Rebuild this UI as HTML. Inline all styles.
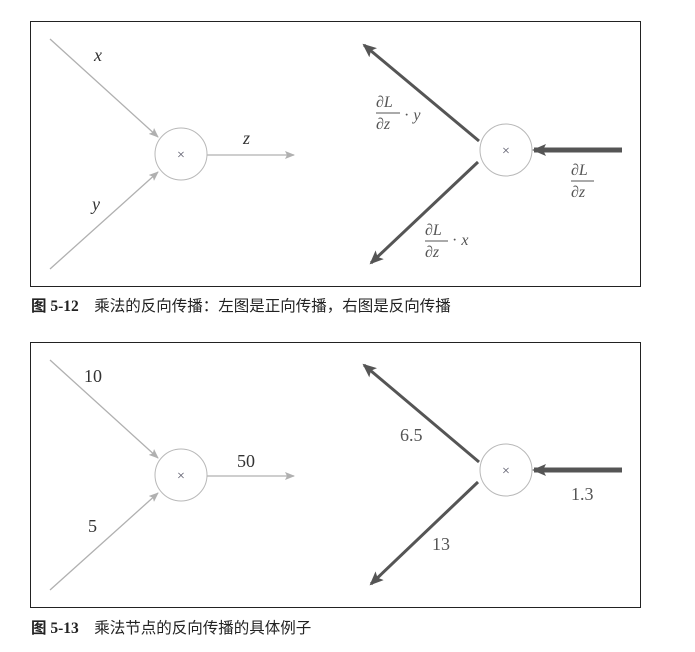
<!DOCTYPE html>
<html><head><meta charset="utf-8"><style>
html,body{margin:0;padding:0;background:#fff;}
svg text{font-family:"Liberation Serif","Noto Serif CJK SC",serif;}
.cap{font-family:"Liberation Serif","Noto Sans CJK SC",sans-serif;font-size:15.5px;fill:#222;}
</style></head><body>
<svg width="695" height="647" viewBox="0 0 695 647" xmlns="http://www.w3.org/2000/svg">
<defs>
<marker id="ag" markerWidth="10" markerHeight="8" refX="9" refY="4" orient="auto" markerUnits="userSpaceOnUse">
<path d="M0,0 L10,4 L0,8 L2,4 Z" fill="#b0b0b0"/></marker>
<marker id="ad" markerWidth="14" markerHeight="12" refX="12" refY="6" orient="auto" markerUnits="userSpaceOnUse">
<path d="M0,0 L14,6 L0,12 L3,6 Z" fill="#555"/></marker>
</defs>
<g>
<rect x="30.5" y="21.5" width="610" height="265" fill="none" stroke="#222" stroke-width="1"/>
<line x1="50" y1="39" x2="158" y2="137" stroke="#b0b0b0" stroke-width="1.3" marker-end="url(#ag)"/>
<line x1="50" y1="269" x2="158" y2="172" stroke="#b0b0b0" stroke-width="1.3" marker-end="url(#ag)"/>
<line x1="207" y1="155" x2="294" y2="155" stroke="#b0b0b0" stroke-width="1.3" marker-end="url(#ag)"/>
<circle cx="181" cy="154" r="26" fill="none" stroke="#b8b8b8" stroke-width="1"/>
<text x="181" y="159" font-size="14" fill="#556" text-anchor="middle">×</text>
<text x="94" y="61" font-size="18" font-style="italic" fill="#333">x</text>
<text x="243" y="144" font-size="18" font-style="italic" fill="#333">z</text>
<text x="92" y="210" font-size="18" font-style="italic" fill="#333">y</text>
<circle cx="506" cy="150" r="26" fill="none" stroke="#b8b8b8" stroke-width="1"/>
<text x="506" y="155" font-size="14" fill="#556" text-anchor="middle">×</text>
<line x1="479" y1="141" x2="364" y2="45" stroke="#555" stroke-width="3" marker-end="url(#ad)"/>
<line x1="478" y1="162" x2="371" y2="263" stroke="#555" stroke-width="3" marker-end="url(#ad)"/>
<line x1="622" y1="150" x2="534" y2="150" stroke="#555" stroke-width="5" marker-end="url(#ad)"/>
<g font-size="16" fill="#555">
<text x="376" y="107" font-style="italic">∂L</text><line x1="376" y1="113" x2="400" y2="113" stroke="#555"/><text x="376" y="129" font-style="italic">∂z</text><text x="404" y="120">· <tspan font-style="italic">y</tspan></text>
<text x="571" y="175" font-style="italic">∂L</text><line x1="571" y1="181" x2="594" y2="181" stroke="#555"/><text x="571" y="197" font-style="italic">∂z</text>
<text x="425" y="235" font-style="italic">∂L</text><line x1="425" y1="241" x2="448" y2="241" stroke="#555"/><text x="425" y="257" font-style="italic">∂z</text><text x="452" y="245">· <tspan font-style="italic">x</tspan></text>
</g>
</g>
<text class="cap" x="31" y="311"><tspan font-weight="bold">图 5-12</tspan>　乘法的反向传播：左图是正向传播，右图是反向传播</text>
<g>
<rect x="30.5" y="342.5" width="610" height="265" fill="none" stroke="#222" stroke-width="1"/>
<line x1="50" y1="360" x2="158" y2="458" stroke="#b0b0b0" stroke-width="1.3" marker-end="url(#ag)"/>
<line x1="50" y1="590" x2="158" y2="493" stroke="#b0b0b0" stroke-width="1.3" marker-end="url(#ag)"/>
<line x1="207" y1="476" x2="294" y2="476" stroke="#b0b0b0" stroke-width="1.3" marker-end="url(#ag)"/>
<circle cx="181" cy="475" r="26" fill="none" stroke="#b8b8b8" stroke-width="1"/>
<text x="181" y="480" font-size="14" fill="#556" text-anchor="middle">×</text>
<text x="84" y="382" font-size="18" fill="#333">10</text>
<text x="237" y="467" font-size="18" fill="#333">50</text>
<text x="88" y="532" font-size="18" fill="#333">5</text>
<circle cx="506" cy="470" r="26" fill="none" stroke="#b8b8b8" stroke-width="1"/>
<text x="506" y="475" font-size="14" fill="#556" text-anchor="middle">×</text>
<line x1="479" y1="462" x2="364" y2="365" stroke="#555" stroke-width="3" marker-end="url(#ad)"/>
<line x1="478" y1="482" x2="371" y2="584" stroke="#555" stroke-width="3" marker-end="url(#ad)"/>
<line x1="622" y1="470" x2="534" y2="470" stroke="#555" stroke-width="5" marker-end="url(#ad)"/>
<text x="400" y="441" font-size="18" fill="#555">6.5</text>
<text x="571" y="500" font-size="18" fill="#555">1.3</text>
<text x="432" y="550" font-size="18" fill="#555">13</text>
</g>
<text class="cap" x="31" y="633"><tspan font-weight="bold">图 5-13</tspan>　乘法节点的反向传播的具体例子</text>
</svg>
</body></html>
